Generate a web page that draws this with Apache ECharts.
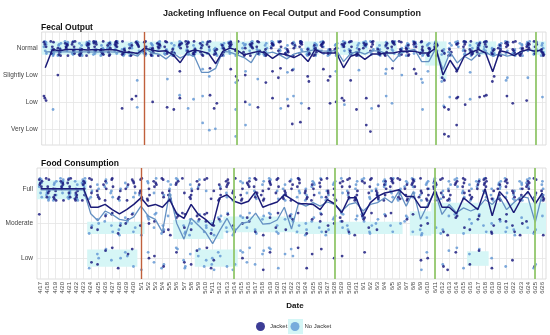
<!DOCTYPE html>
<html><head><meta charset="utf-8">
<script src="https://cdn.jsdelivr.net/npm/echarts@6/dist/echarts.min.js"></script>
<style>html,body{margin:0;padding:0;background:#fff}#c{width:550px;height:335px}</style>
</head><body><div id="c"></div>
<script>
const dates = ['4/17','4/18','4/19','4/20','4/21','4/22','4/23','4/24','4/25','4/26','4/27','4/28','4/29','4/30',
'5/1','5/2','5/3','5/4','5/5','5/6','5/7','5/8','5/9','5/10','5/11','5/12','5/13','5/14','5/15','5/16','5/17','5/18','5/19','5/20','5/21','5/22','5/23','5/24','5/25','5/26','5/27','5/28','5/29','5/30','5/31',
'6/1','6/2','6/3','6/4','6/5','6/6','6/7','6/8','6/9','6/10','6/11','6/12','6/13','6/14','6/15','6/16','6/17','6/18','6/19','6/20','6/21','6/22','6/23','6/24','6/25','6/26'];
const fecalLevels = ['Very Low','Low','Slightly Low','Normal'];
const foodLevels = ['Low','Moderate','Full'];
const eventDatesRed = ['5/1'];
const eventDatesGreen = ['5/14','5/28','6/11','6/25'];

// daily means
const jacketFecalMean = [3.27,3.95,3.9,3.95,3.95,3.95,3.93,3.95,3.93,3.95,3.93,3.85,3.85,3.8,4.0,3.93,3.88,3.9,3.75,3.46,3.85,3.93,3.88,3.8,3.42,3.88,4.0,3.93,3.75,3.82,3.88,3.82,3.62,3.8,3.75,3.65,3.78,3.5,3.95,3.82,3.82,3.82,3.27,3.7,3.78,3.58,3.78,3.78,3.82,3.82,3.88,3.88,3.88,3.82,3.82,4.0,3.0,3.55,3.15,3.7,3.85,3.95,3.82,3.12,3.9,3.85,3.72,3.88,3.95,3.88,3.95];
const noJacketFecalMean = [3.86,3.87,3.86,3.86,3.85,3.86,3.86,3.85,3.86,3.86,3.85,3.86,3.8,3.7,4.0,3.82,3.78,3.6,3.82,3.63,3.78,3.7,3.1,3.1,3.25,3.88,3.85,3.75,3.65,3.46,3.9,3.8,3.85,3.75,3.6,3.78,3.85,3.88,3.95,3.9,3.88,3.92,3.5,3.8,3.88,3.78,3.9,3.9,3.8,3.5,3.8,3.9,3.95,3.5,3.5,4.0,3.2,3.85,3.45,3.7,3.55,3.8,3.85,3.7,3.8,3.7,3.75,3.85,3.95,3.85,3.95];
const jacketFoodMean = [3.0,3.0,3.0,3.0,3.0,3.0,3.0,2.47,2.47,2.55,2.4,2.28,2.4,2.55,2.74,2.5,2.55,2.47,2.69,2.28,2.15,2.55,2.26,2.12,1.93,2.74,2.83,2.64,2.57,2.64,2.92,2.47,2.55,2.62,2.83,2.7,2.57,2.57,2.55,2.4,2.69,2.57,2.31,2.74,2.74,2.22,2.6,2.78,2.88,2.92,2.97,2.78,2.78,2.47,2.47,2.97,2.47,2.47,2.28,2.74,2.57,2.4,3.0,2.22,2.92,2.69,2.31,2.69,2.92,2.57,2.88];
const noJacketFoodMean = [2.97,2.97,2.97,2.97,2.97,2.97,2.97,2.28,2.08,2.36,2.26,2.12,2.08,2.19,2.5,2.22,2.12,1.75,2.9,2.0,1.55,2.15,1.95,1.75,1.42,1.8,2.15,1.75,2.0,2.05,2.3,1.98,2.0,2.1,2.47,1.84,2.6,2.5,2.6,2.5,2.62,2.55,2.36,2.55,2.6,2.36,2.55,2.6,2.74,2.6,2.94,2.5,2.92,2.12,2.55,2.92,2.26,2.55,2.31,2.45,2.36,2.45,2.69,2.55,2.78,2.4,2.6,2.78,2.74,2.03,2.88];

// individual observations: count per day (digit per day) or list of day indices
const jacketFecalNormal = '3656666666'+'6555656554'+'6664465446'+'5544545365'+'3545545565'+'6646662425'+'65446556566';
const jacketFecalSlightlyLow = [2,19,23,26,27,27,28,31,32,33,33,35,37,37,39,40,40,43,49,52,52,56,56,58,63,63];
const jacketFecalLow = [0,0,0,11,12,13,15,17,18,19,23,24,24,28,30,32,34,37,40,41,42,42,44,45,47,56,57,58,58,59,61,62,62,65,66,68];
const jacketFecalVeryLow = [35,36,45,46,56,57,58];
const noJacketFecalNormal = '6566666666'+'6664666565'+'5534566345'+'5665445666'+'6556565635'+'5663563556'+'46666466565';
const noJacketFecalSlightlyLow = [13,17,22,23,27,28,30,34,35,41,44,48,48,50,53,53,54,56,56,58,60,65,65,68];
const noJacketFecalLow = [1,13,19,20,21,22,27,29,33,34,35,36,42,46,48,49,53,56,57,60,70];
const noJacketFecalVeryLow = [22,23,24,27,28];

const jacketFoodFull = '5666666444'+'3334544443'+'2432255444'+'5444544443'+'4435524555'+'6554464435'+'43625434545';
const jacketFoodModerate = '1000000111'+'2221111122'+'3123211212'+'1112121112'+'2121132111'+'0111101121'+'12031222111';
const jacketFoodLow = '0000000111'+'1111011101'+'1111200010'+'0110001111'+'0110010000'+'0001101110'+'11010010010';
const noJacketFoodFull = '6666666323'+'3222422152'+'0221012122'+'3222414343'+'4323423454'+'5352453434'+'34445345525';
const noJacketFoodModerate = '0000000222'+'2323133312'+'3323333322'+'2223132323'+'2343243212'+'1313112121'+'21211221121';
const noJacketFoodLow = '0000000121'+'1121111202'+'3122321222'+'1221120000'+'0000000000'+'0001101111'+'11010100020';

// light shaded regions [startDay, endDay, low, high]
const fecalBands = [[-0.5,31.5,3.75,4.25],[36.5,38.5,3.75,4.25],[41.5,45.5,3.75,4.25],[46.5,49.5,3.75,4.25],[52.5,56.5,3.75,4.25],[53.5,55.5,3.35,3.75],[55.5,56.5,2.85,3.75],[59.5,63.5,3.75,4.25],[68.5,70.5,3.75,4.25]];
const foodBands = [[-0.5,6.5,2.7,3.25],[6.5,14.5,1.7,2.05],[18.5,25.5,1.55,2.1],[25.5,35.5,1.75,2.2],[35.5,50.5,1.7,2.05],[51.5,54.5,1.65,2.35],[54.5,70.5,1.7,2.6],[6.5,13.5,0.75,1.25],[21.5,27.5,0.75,1.25],[59.5,62.5,0.78,1.2]];
</script>
<script>
const NAVY = '#12127a', LIGHT = '#5d93d3', NAVY_LINE = '#1b1b78', LIGHT_LINE = '#6490c2';
// fixed jitter offsets (layout only)
const jx = [-0.18,0.12,-0.05,0.2,-0.12,0.06,-0.22,0.16,0.0,-0.08,0.1];
const jy = [0.22,-0.15,0.05,-0.24,0.14,-0.05,0.18,-0.2,0.1,-0.1,0.0,0.25,-0.28];
function off(i,k,phase,ys,level){
  const px=(i*3+k+phase)%jx.length, py=(i*5+k*2+phase)%jy.length;
  return [i+jx[px], level+jy[py]*ys];
}
function addCounts(out, s, level, phase, ys){
  for(let i=0;i<s.length;i++){const n=+s[i];for(let k=0;k<n;k++){out.push(off(i,k,phase,ys,level));}}
}
function addList(out, days, level, phase, ys){
  const seen={};days.forEach(d=>{const k=seen[d]||0;seen[d]=k+1;out.push(off(d,k,phase,ys,level));});
}
const jf=[],nf=[],jd=[],nd=[];
addCounts(jf,jacketFecalNormal,4,0,1);addList(jf,jacketFecalSlightlyLow,3,0,1);addList(jf,jacketFecalLow,2,0,1);addList(jf,jacketFecalVeryLow,1,0,1);
addCounts(nf,noJacketFecalNormal,4,7,1);addList(nf,noJacketFecalSlightlyLow,3,7,1);addList(nf,noJacketFecalLow,2,7,1);addList(nf,noJacketFecalVeryLow,1,7,1);
addCounts(jd,jacketFoodFull,3,0,1.2);addCounts(jd,jacketFoodModerate,2,0,1.2);addCounts(jd,jacketFoodLow,1,0,1.2);
addCounts(nd,noJacketFoodFull,3,7,1.2);addCounts(nd,noJacketFoodModerate,2,7,1.2);addCounts(nd,noJacketFoodLow,1,7,1.2);

const dayIdx = dates.map((d,i)=>i);
const FONT = 'Liberation Sans';
function xAx(g, labels){
  return {type:'value',gridIndex:g,min:-0.5,max:70.5,
    axisLine:{show:false},
    axisTick:{show:false,customValues:dayIdx},
    axisLabel:labels?{show:true,customValues:dayIdx,formatter:v=>dates[Math.round(v)],rotate:90,fontSize:6,color:'#444',margin:3,fontFamily:FONT}:{show:false},
    splitLine:{show:true,lineStyle:{color:'#e4e4e4',width:0.8}}};
}
function yAx(g, levels, min, max){
  const vals = levels.map((l,i)=>i+1);
  return {type:'value',gridIndex:g,min:min,max:max,
    axisLine:{show:false},axisTick:{show:false,customValues:vals},
    axisLabel:{customValues:vals,formatter:v=>levels[Math.round(v)-1]||'',fontSize:6.5,color:'#444',margin:4,fontFamily:FONT},
    splitLine:{show:true,lineStyle:{color:'#e4e4e4',width:0.8}}};
}
function bandsArea(b){return b.map(r=>[{coord:[r[0],r[2]]},{coord:[r[1],r[3]]}]);}
function eventLines(){
  const d=[];
  eventDatesRed.forEach(t=>d.push({xAxis:dates.indexOf(t),lineStyle:{color:'#c0603c',width:1.4,type:'solid'}}));
  eventDatesGreen.forEach(t=>d.push({xAxis:dates.indexOf(t),lineStyle:{color:'#93c86c',width:1.8,type:'solid'}}));
  return d;
}
function helper(g, bands){
  return {type:'line',xAxisIndex:g,yAxisIndex:g,data:[],z:1,silent:true,
    markArea:{silent:true,itemStyle:{color:'#d6f6f6'},data:bandsArea(bands)},
    markLine:{silent:true,symbol:['none','none'],label:{show:false},data:eventLines()}};
}
function sc(name,g,data,color){return {name:name,type:'scatter',xAxisIndex:g,yAxisIndex:g,data:data,symbolSize:2.8,itemStyle:{color:color},z:3,silent:true};}
function ln(name,g,vals,color,w){return {name:name,type:'line',xAxisIndex:g,yAxisIndex:g,data:vals.map((v,i)=>[i,v]),symbol:'none',lineStyle:{color:color,width:w},itemStyle:{color:color},z:4,silent:true};}
function leg(name,left,color){
  return {left:left,top:322,padding:0,itemWidth:9,itemHeight:9,itemStyle:{borderWidth:0},selectedMode:false,
    textStyle:{fontSize:6,color:'#333',fontFamily:FONT},
    data:[{name:name,icon:'circle',itemStyle:{color:color}}]};
}

const chart = echarts.init(document.getElementById('c'),null,{renderer:'canvas'});
chart.setOption({
  animation:false,
  textStyle:{fontFamily:FONT},
  title:[
    {text:'Jacketing Influence on Fecal Output and Food Consumption',left:287,textAlign:'center',top:4,textStyle:{fontSize:9,fontWeight:'bold',color:'#222',fontFamily:FONT}},
    {text:'Fecal Output',left:36,top:18,textStyle:{fontSize:8.5,fontWeight:'bold',color:'#111',fontFamily:FONT}},
    {text:'Food Consumption',left:36,top:154,textStyle:{fontSize:8.5,fontWeight:'bold',color:'#111',fontFamily:FONT}},
    {text:'Date',left:290,textAlign:'center',top:297,textStyle:{fontSize:8,fontWeight:'bold',color:'#111',fontFamily:FONT}}
  ],
  graphic:[{type:'rect',shape:{x:288,y:319,width:15,height:15},style:{fill:'#d4f6f6'},z:-1}],
  legend:[leg('Jacket',256,'#0c0c7c'),leg('No Jacket',290.5,'#5f98d6')],
  grid:[
    {left:37,right:4,top:32,height:113,show:true,borderColor:'#d6d6d6',borderWidth:0.8,backgroundColor:'#fff'},
    {left:37,right:4,top:168,height:111,show:true,borderColor:'#d6d6d6',borderWidth:0.8,backgroundColor:'#fff'}
  ],
  xAxis:[xAx(0,false),xAx(1,true)],
  yAxis:[yAx(0,fecalLevels,0.4,4.6),yAx(1,foodLevels,0.4,3.6)],
  series:[
    helper(0,fecalBands),helper(1,foodBands),
    sc('No Jacket',0,nf,LIGHT),sc('Jacket',0,jf,NAVY),
    sc('No Jacket',1,nd,LIGHT),sc('Jacket',1,jd,NAVY),
    ln('No Jacket',0,noJacketFecalMean,LIGHT_LINE,1.3),ln('Jacket',0,jacketFecalMean,NAVY_LINE,1.5),
    ln('No Jacket',1,noJacketFoodMean,LIGHT_LINE,1.3),ln('Jacket',1,jacketFoodMean,NAVY_LINE,1.5)
  ]
});
</script></body></html>
